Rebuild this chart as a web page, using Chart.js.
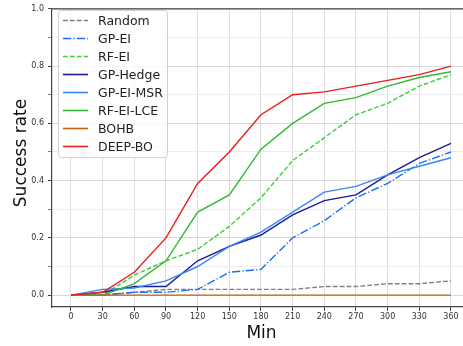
<!DOCTYPE html>
<html lang="en">
<head>
  <meta charset="UTF-8">
  <title>Success rate vs Min</title>
  <script src="https://cdn.jsdelivr.net/npm/chart.js"></script>
  <style>
    html, body { margin: 0; padding: 0; background: #fff; }
    canvas { display: block; }
  </style>
</head>
<body>
  <canvas id="chart" width="463" height="346"></canvas>

  <script>
    // values
    const minutes = [0, 30, 60, 90, 120, 150, 180, 210, 240, 270, 300, 330, 360];
    const seriesNames = ['Random', 'GP-EI', 'RF-EI', 'GP-Hedge', 'GP-EI-MSR', 'RF-EI-LCE', 'BOHB', 'DEEP-BO'];
    const random   = [0, 0, 0.01, 0.02, 0.02, 0.02, 0.02, 0.02, 0.03, 0.03, 0.04, 0.04, 0.05];
    const gpEi     = [0, 0, 0.01, 0.01, 0.02, 0.08, 0.09, 0.20, 0.26, 0.34, 0.39, 0.46, 0.50];
    const rfEi     = [0, 0, 0.07, 0.12, 0.16, 0.24, 0.34, 0.47, 0.55, 0.63, 0.67, 0.73, 0.77];
    const gpHedge  = [0, 0.01, 0.03, 0.03, 0.12, 0.17, 0.21, 0.28, 0.33, 0.35, 0.42, 0.48, 0.53];
    const gpEiMsr  = [0, 0.02, 0.025, 0.05, 0.10, 0.17, 0.22, 0.29, 0.36, 0.38, 0.42, 0.45, 0.48];
    const rfEiLce  = [0, 0, 0.04, 0.12, 0.29, 0.35, 0.51, 0.60, 0.67, 0.69, 0.73, 0.76, 0.78];
    const bohb     = [0, 0, 0, 0, 0, 0, 0, 0, 0, 0, 0, 0, 0];
    const deepBo   = [0, 0.01, 0.08, 0.20, 0.39, 0.50, 0.63, 0.70, 0.71, 0.73, 0.75, 0.77, 0.80];
    const xTicks = [0, 30, 60, 90, 120, 150, 180, 210, 240, 270, 300, 330, 360];
    const yTicks = [0, 0.1, 0.2, 0.3, 0.4, 0.5, 0.6, 0.7, 0.8, 0.9, 1.0];

    const allValues = [random, gpEi, rfEi, gpHedge, gpEiMsr, rfEiLce, bohb, deepBo];
    const colors = ['#808080', '#1a6eff', '#3fcc3f', '#1c1c8a', '#3a86f7', '#2fba2f', '#c4610f', '#ea1c1c'];
    const dashes = [[4.8, 2.1], [8.3, 2.1, 1.3, 2.1], [4.8, 2.1], [], [], [], [], []];

    const FONT = '"DejaVu Sans", sans-serif';

    const datasets = seriesNames.map((name, i) => ({
      label: name,
      data: minutes.map((m, j) => ({ x: m, y: allValues[i][j] })),
      borderColor: colors[i],
      borderWidth: 1.4,
      borderDash: dashes[i],
      pointRadius: 0,
      fill: false,
      tension: 0,
      order: seriesNames.length - i   // later series on top, like matplotlib
    }));

    // spines, axis titles and the boxed legend
    const decorations = {
      id: 'decorations',
      afterDraw(chart) {
        const ctx = chart.ctx;
        const area = chart.chartArea;
        ctx.save();

        // top spine
        ctx.strokeStyle = '#444';
        ctx.lineWidth = 1.2;
        ctx.beginPath();
        ctx.moveTo(area.left, area.top);
        ctx.lineTo(area.right, area.top);
        ctx.stroke();

        // axis titles
        ctx.fillStyle = '#111';
        ctx.font = '17px ' + FONT;
        ctx.textAlign = 'center';
        ctx.textBaseline = 'alphabetic';
        ctx.fillText('Min', 261.5, 337.5);
        ctx.save();
        ctx.translate(25.5, 153);
        ctx.rotate(-Math.PI / 2);
        ctx.fillText('Success rate', 0, 0);
        ctx.restore();

        // legend box
        const bx = 58.5, by = 10.5, bw = 109, bh = 147, r = 3;
        ctx.beginPath();
        ctx.moveTo(bx + r, by);
        ctx.arcTo(bx + bw, by, bx + bw, by + bh, r);
        ctx.arcTo(bx + bw, by + bh, bx, by + bh, r);
        ctx.arcTo(bx, by + bh, bx, by, r);
        ctx.arcTo(bx, by, bx + bw, by, r);
        ctx.closePath();
        ctx.fillStyle = 'rgba(255,255,255,0.8)';
        ctx.fill();
        ctx.strokeStyle = '#d0d0d0';
        ctx.lineWidth = 1;
        ctx.stroke();

        ctx.font = '12.5px ' + FONT;
        ctx.textAlign = 'left';
        seriesNames.forEach((name, i) => {
          const y = 20.5 + 18 * i;
          ctx.strokeStyle = colors[i];
          ctx.lineWidth = 1.6;
          ctx.setLineDash(dashes[i]);
          ctx.beginPath();
          ctx.moveTo(63, y);
          ctx.lineTo(88, y);
          ctx.stroke();
          ctx.setLineDash([]);
          ctx.fillStyle = '#222';
          ctx.fillText(name, 98, y + 4.5);
        });

        ctx.restore();
      }
    };

    new Chart(document.getElementById('chart').getContext('2d'), {
      type: 'line',
      data: { datasets },
      options: {
        responsive: false,
        animation: false,
        layout: { padding: { top: 5, right: 0, left: 0, bottom: 0 } },
        plugins: {
          legend: { display: false },
          tooltip: { enabled: false }
        },
        scales: {
          x: {
            type: 'linear',
            min: -18,
            max: 371.4,
            afterBuildTicks: (axis) => { axis.ticks = xTicks.map(v => ({ value: v })); },
            afterFit: (axis) => { axis.height = 39; },
            ticks: {
              color: '#333',
              font: { family: FONT, size: 8 },
              padding: 1,
              maxRotation: 0,
              callback: (v) => String(v)
            },
            grid: { color: '#dedede', lineWidth: 1, tickLength: 4, tickColor: '#444' },
            border: { display: true, color: '#444', width: 1.2 }
          },
          y: {
            min: -0.0414,
            max: 1.0,
            afterBuildTicks: (axis) => { axis.ticks = yTicks.map(v => ({ value: v })); },
            afterFit: (axis) => { axis.width = 52; },
            ticks: {
              color: '#333',
              font: { family: FONT, size: 8 },
              padding: 4,
              callback: (v, i) => (i % 2 === 0 ? v.toFixed(1) : '')
            },
            grid: {
              color: (c) => (c.index % 2 === 0 ? '#d8d8d8' : '#ececec'),
              lineWidth: 1,
              tickLength: 4,
              tickColor: (c) => (c.index % 2 === 0 ? '#444' : '#888')
            },
            border: { display: true, color: '#444', width: 1.2 }
          }
        }
      },
      plugins: [decorations]
    });
  </script>
</body>
</html>
